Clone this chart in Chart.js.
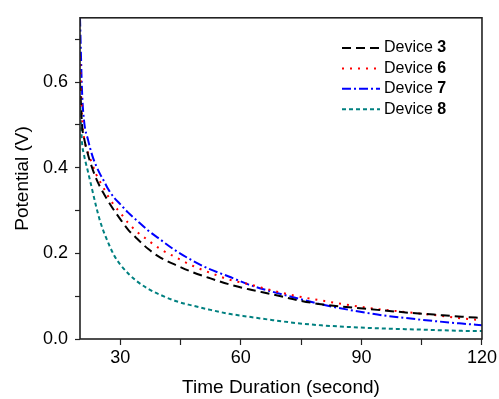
<!DOCTYPE html>
<html>
<head>
<meta charset="utf-8">
<script src="https://cdn.jsdelivr.net/npm/chart.js@4"></script>
<style>
    html, body { margin: 0; padding: 0; background: #fff; }
    #wrap { width: 499px; height: 399px; }
</style>
</head>
<body>
<div id="wrap"><canvas id="decayChart" width="499" height="399"></canvas></div>
<script>
// time axis (seconds) shared by all curves
const times = [20, 20.5, 21, 22, 23, 24, 25, 26, 27, 28.5, 30, 32, 34, 37, 40, 44, 48, 52, 57, 62, 68, 74, 80, 87, 94, 101, 108, 115, 120];

// potential (V)
const device3 = [0.60, 0.50, 0.47, 0.43, 0.40, 0.375, 0.355, 0.338, 0.322, 0.300, 0.280, 0.255, 0.236, 0.210, 0.190, 0.172, 0.156, 0.143, 0.128, 0.116, 0.104, 0.091, 0.081, 0.074, 0.068, 0.062, 0.057, 0.052, 0.049];
const device6 = [0.66, 0.52, 0.47, 0.435, 0.41, 0.385, 0.367, 0.350, 0.333, 0.312, 0.295, 0.271, 0.252, 0.230, 0.210, 0.190, 0.171, 0.156, 0.139, 0.128, 0.113, 0.100, 0.090, 0.079, 0.070, 0.063, 0.056, 0.048, 0.044];
const device7 = [0.75, 0.58, 0.51, 0.465, 0.43, 0.405, 0.385, 0.368, 0.350, 0.330, 0.315, 0.295, 0.278, 0.253, 0.232, 0.205, 0.183, 0.164, 0.146, 0.127, 0.110, 0.095, 0.081, 0.068, 0.057, 0.049, 0.042, 0.036, 0.032];
const device8 = [0.56, 0.46, 0.43, 0.39, 0.35, 0.31, 0.275, 0.248, 0.225, 0.195, 0.174, 0.153, 0.136, 0.117, 0.103, 0.088, 0.078, 0.069, 0.059, 0.052, 0.044, 0.037, 0.032, 0.028, 0.025, 0.023, 0.021, 0.019, 0.0185];

const deviceNumbers = ['3', '6', '7', '8'];
const xTicks = [30, 45, 60, 75, 90, 105, 120];
const yTicks = [0, 0.1, 0.2, 0.3, 0.4, 0.5, 0.6, 0.7];

const styles = [
    { color: '#000000', dash: [9, 5] },
    { color: '#ff0000', dash: [2, 6] },
    { color: '#0000ff', dash: [9, 3, 2, 3] },
    { color: '#008080', dash: [4, 3] }
];

const seriesValues = [device3, device6, device7, device8];
const fontFamily = '"Liberation Sans", Arial, sans-serif';

const datasets = seriesValues.map((vals, i) => ({
    label: 'Device ' + deviceNumbers[i],
    data: times.map((t, k) => ({ x: t, y: vals[k] })),
    borderColor: styles[i].color,
    borderDash: styles[i].dash,
    borderWidth: 2,
    pointRadius: 0,
    fill: false,
    cubicInterpolationMode: 'monotone'
}));

// box around the plot area
const frameBox = {
    id: 'frameBox',
    afterDatasetsDraw(chart) {
        const { ctx, chartArea: a } = chart;
        ctx.save();
        ctx.strokeStyle = '#222';
        ctx.lineWidth = 1.6;
        ctx.setLineDash([]);
        ctx.strokeRect(a.left, a.top, a.right - a.left, a.bottom - a.top);
        ctx.restore();
    }
};

// legend with bold device number
const deviceLegend = {
    id: 'deviceLegend',
    afterDraw(chart) {
        const ctx = chart.ctx;
        const x0 = 342, x1 = 380, textX = 384;
        ctx.save();
        chart.data.datasets.forEach((ds, i) => {
            const y = 48 + i * 20.4;
            ctx.strokeStyle = ds.borderColor;
            ctx.lineWidth = 2;
            ctx.setLineDash(ds.borderDash);
            ctx.beginPath();
            ctx.moveTo(x0, y);
            ctx.lineTo(x1, y);
            ctx.stroke();
            ctx.setLineDash([]);
            ctx.fillStyle = '#000';
            ctx.textBaseline = 'middle';
            ctx.font = '16px ' + fontFamily;
            ctx.fillText('Device ', textX, y);
            const w = ctx.measureText('Device ').width;
            ctx.font = 'bold 16px ' + fontFamily;
            ctx.fillText(deviceNumbers[i], textX + w, y);
        });
        ctx.restore();
    }
};

new Chart(document.getElementById('decayChart'), {
    type: 'line',
    data: { datasets: datasets },
    plugins: [frameBox, deviceLegend],
    options: {
        responsive: false,
        animation: false,
        layout: { padding: { left: 11, top: 14, right: 16, bottom: 0 } },
        plugins: {
            legend: { display: false },
            tooltip: { enabled: false }
        },
        scales: {
            x: {
                type: 'linear',
                min: 20,
                max: 120,
                border: { display: false },
                grid: { drawOnChartArea: false, tickLength: 6, tickColor: '#222', tickWidth: 1.2 },
                afterBuildTicks: scale => { scale.ticks = xTicks.map(v => ({ value: v })); },
                afterFit: scale => { scale.height = 60; },
                ticks: {
                    color: '#000',
                    padding: 2,
                    maxRotation: 0,
                    font: { family: fontFamily, size: 18 },
                    callback: v => (v % 30 === 0 ? String(v) : '')
                },
                title: {
                    display: true,
                    text: 'Time Duration (second)',
                    color: '#000',
                    padding: 0,
                    font: { family: fontFamily, size: 19 }
                }
            },
            y: {
                min: 0,
                max: 0.75,
                border: { display: false },
                grid: { drawOnChartArea: false, tickLength: 5, tickColor: '#222', tickWidth: 1.2 },
                afterBuildTicks: scale => { scale.ticks = yTicks.map(v => ({ value: v })); },
                afterFit: scale => { scale.width = 69; },
                ticks: {
                    color: '#000',
                    padding: 7,
                    font: { family: fontFamily, size: 18 },
                    callback: v => (Math.round(v * 10) % 2 === 0 ? v.toFixed(1) : '')
                },
                title: {
                    display: true,
                    text: 'Potential (V)',
                    color: '#000',
                    padding: 0,
                    font: { family: fontFamily, size: 19 }
                }
            }
        }
    }
});
</script>
</body>
</html>
